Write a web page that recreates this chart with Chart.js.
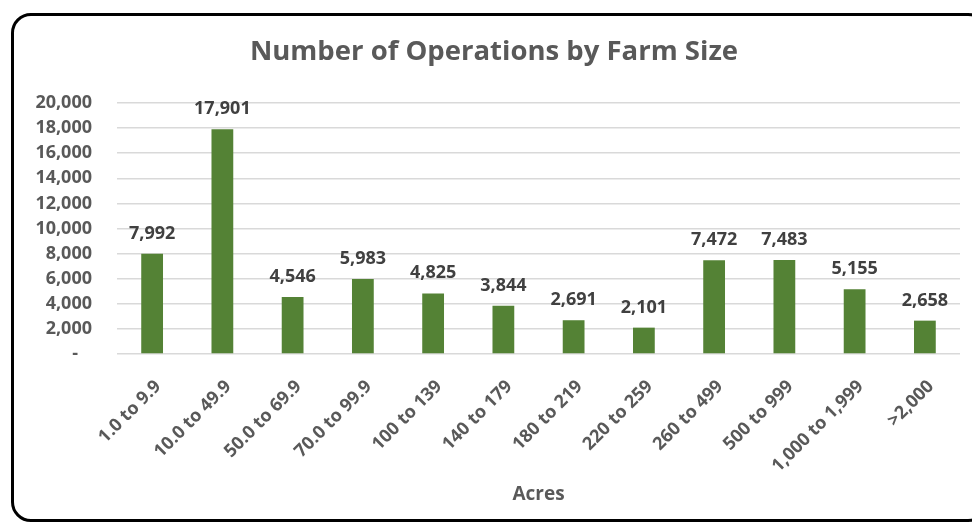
<!DOCTYPE html>
<html>
<head>
<meta charset="utf-8">
<script src="https://cdn.jsdelivr.net/npm/chart.js@4.4.1/dist/chart.umd.min.js"></script>
<style>
  html, body { margin: 0; padding: 0; background: #fff; overflow: hidden; }
  #wrap { position: relative; width: 972px; height: 522px; }
  #marco {
    position: absolute; left: 11px; top: 13px; width: 977px; height: 509px;
    box-sizing: border-box; border: 3px solid #000; border-radius: 20px;
    pointer-events: none;
  }
</style>
</head>
<body>
<div id="wrap">
  <canvas id="grafica" width="972" height="522"></canvas>
  <div id="marco"></div>
</div>
<script>
// Datos
const categorias = ["1.0 to 9.9", "10.0 to 49.9", "50.0 to 69.9", "70.0 to 99.9", "100 to 139",
    "140 to 179", "180 to 219", "220 to 259", "260 to 499", "500 to 999", "1,000 to 1,999", ">2,000"];
const operaciones = [7992, 17901, 4546, 5983, 4825, 3844, 2691, 2101, 7472, 7483, 5155, 2658];

const FUENTE = "'Open Sans', 'DejaVu Sans', sans-serif";
const VERDE = "#548235";
const GRIS = "#595959";

// Etiquetas de valor encima de cada barra
const etiquetasBarras = {
    id: "etiquetasBarras",
    afterDatasetsDraw(chart) {
        const ctx = chart.ctx;
        const meta = chart.getDatasetMeta(0);
        ctx.save();
        ctx.font = "bold 18px " + FUENTE;
        ctx.fillStyle = "#404040";
        ctx.textAlign = "center";
        ctx.textBaseline = "alphabetic";
        meta.data.forEach((barra, i) => {
            const texto = operaciones[i].toLocaleString("en-US");
            ctx.fillText(texto, barra.x, barra.y - 15);
        });
        ctx.restore();
    }
};

new Chart(document.getElementById("grafica"), {
    type: "bar",
    data: {
        labels: categorias,
        datasets: [{
            label: "Operations",
            data: operaciones,
            backgroundColor: VERDE,
            borderWidth: 0,
            barPercentage: 0.31,
            categoryPercentage: 1
        }]
    },
    options: {
        responsive: false,
        animation: false,
        layout: { padding: { left: 28, right: 12, top: 0, bottom: 0 } },
        plugins: {
            legend: { display: false },
            tooltip: { enabled: false },
            title: {
                display: true,
                text: "Number of Operations by Farm Size",
                color: GRIS,
                font: { family: FUENTE, size: 27.5, weight: "bold" },
                padding: { top: 36, bottom: 34 }
            }
        },
        scales: {
            y: {
                min: 0,
                max: 20000,
                ticks: {
                    stepSize: 2000,
                    color: GRIS,
                    padding: 25,
                    font: { family: FUENTE, size: 18, weight: "bold" },
                    callback: v => v === 0 ? "-   " : v.toLocaleString("en-US")
                },
                grid: { color: "#d9d9d9", lineWidth: 1.5, drawTicks: false },
                border: { display: false },
                afterFit: scale => { scale.width = 89; }
            },
            x: {
                ticks: {
                    color: GRIS,
                    minRotation: 45,
                    maxRotation: 45,
                    autoSkip: false,
                    padding: 14,
                    labelOffset: 6,
                    font: { family: FUENTE, size: 18, weight: "bold" }
                },
                grid: { display: false },
                border: { display: false },
                title: {
                    display: true,
                    text: "Acres",
                    color: GRIS,
                    font: { family: FUENTE, size: 19, weight: "bold" },
                    padding: { top: 0, bottom: 16 }
                },
                afterFit: scale => { scale.height = 168; }
            }
        }
    },
    plugins: [etiquetasBarras]
});
</script>
</body>
</html>
